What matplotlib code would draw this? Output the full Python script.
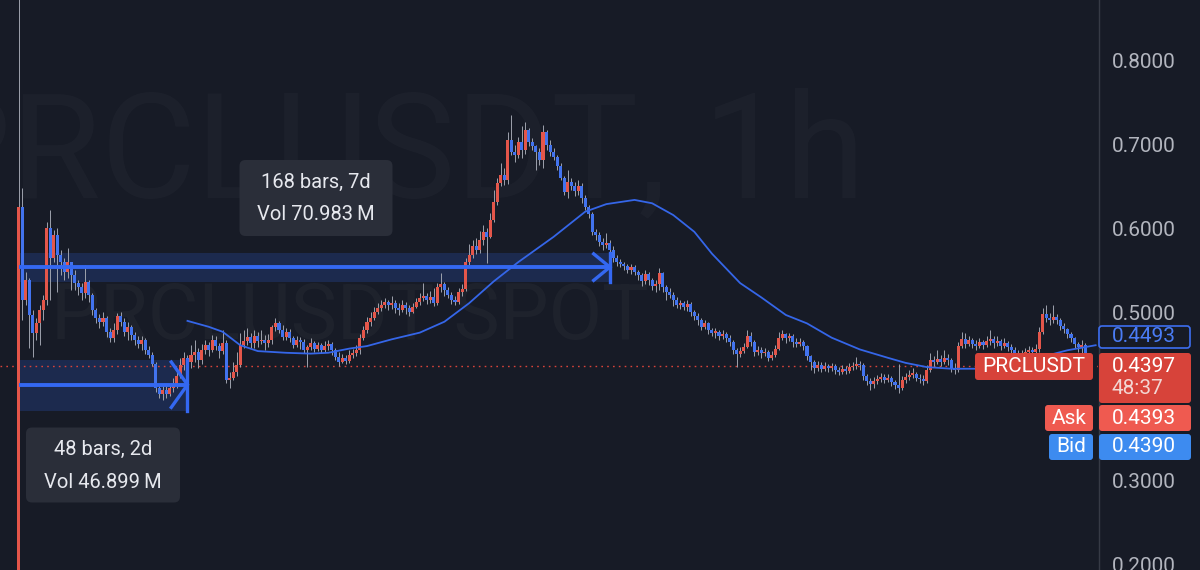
import matplotlib
matplotlib.use("Agg")
import matplotlib.pyplot as plt
import matplotlib.transforms as mtransforms
from matplotlib.patches import Rectangle, FancyBboxPatch

plt.rcParams['font.family'] = ['Roboto', 'DejaVu Sans']

# PRCLUSDT 1h candles (open = previous close)
first_open = 0.05
closes = [
    0.629, 0.518, 0.542, 0.500, 0.479, 0.490, 0.506, 0.518, 0.604, 0.568,
    0.595, 0.571, 0.563, 0.551, 0.563, 0.548, 0.538, 0.533, 0.526, 0.539,
    0.524, 0.506, 0.496, 0.492, 0.496, 0.480, 0.473, 0.482, 0.499, 0.492,
    0.480, 0.486, 0.476, 0.470, 0.465, 0.470, 0.458, 0.452, 0.442, 0.413,
    0.406, 0.411, 0.406, 0.413, 0.418, 0.427, 0.440, 0.449, 0.444, 0.452,
    0.456, 0.446, 0.458, 0.464, 0.458, 0.470, 0.463, 0.457, 0.467, 0.423,
    0.425, 0.432, 0.440, 0.464, 0.469, 0.474, 0.467, 0.475, 0.469, 0.470,
    0.467, 0.470, 0.486, 0.490, 0.482, 0.474, 0.480, 0.473, 0.464, 0.470,
    0.468, 0.458, 0.462, 0.467, 0.460, 0.464, 0.458, 0.463, 0.465, 0.458,
    0.450, 0.444, 0.449, 0.445, 0.452, 0.455, 0.458, 0.473, 0.482, 0.492,
    0.496, 0.504, 0.508, 0.512, 0.515, 0.512, 0.514, 0.508, 0.506, 0.512,
    0.508, 0.504, 0.510, 0.515, 0.520, 0.523, 0.518, 0.521, 0.514, 0.533,
    0.537, 0.530, 0.524, 0.518, 0.515, 0.527, 0.531, 0.563, 0.571, 0.582,
    0.577, 0.589, 0.599, 0.593, 0.613, 0.635, 0.657, 0.667, 0.661, 0.708,
    0.694, 0.690, 0.706, 0.696, 0.720, 0.706, 0.701, 0.694, 0.685, 0.718,
    0.702, 0.694, 0.688, 0.677, 0.663, 0.646, 0.658, 0.654, 0.648, 0.654,
    0.639, 0.629, 0.620, 0.599, 0.595, 0.587, 0.583, 0.586, 0.577, 0.568,
    0.563, 0.561, 0.558, 0.554, 0.557, 0.551, 0.548, 0.540, 0.549, 0.542,
    0.535, 0.537, 0.550, 0.533, 0.527, 0.524, 0.518, 0.512, 0.514, 0.510,
    0.513, 0.504, 0.499, 0.494, 0.486, 0.490, 0.482, 0.479, 0.480, 0.475,
    0.477, 0.473, 0.468, 0.458, 0.454, 0.457, 0.462, 0.475, 0.468, 0.456,
    0.458, 0.455, 0.456, 0.449, 0.452, 0.460, 0.473, 0.477, 0.473, 0.475,
    0.468, 0.465, 0.468, 0.463, 0.451, 0.444, 0.437, 0.440, 0.436, 0.439,
    0.437, 0.439, 0.435, 0.432, 0.436, 0.433, 0.438, 0.439, 0.442, 0.440,
    0.427, 0.421, 0.418, 0.421, 0.424, 0.426, 0.423, 0.425, 0.420, 0.417,
    0.413, 0.423, 0.426, 0.429, 0.430, 0.425, 0.424, 0.421, 0.435, 0.446,
    0.444, 0.448, 0.444, 0.449, 0.446, 0.437, 0.435, 0.463, 0.471, 0.465,
    0.470, 0.465, 0.463, 0.468, 0.464, 0.469, 0.471, 0.467, 0.469, 0.463,
    0.467, 0.462, 0.458, 0.455, 0.450, 0.452, 0.456, 0.458, 0.456, 0.460,
    0.480, 0.501, 0.496, 0.494, 0.498, 0.494, 0.487, 0.483, 0.477, 0.473,
    0.465, 0.462, 0.464, 0.4397,
]
highs = [
    0.950, 0.651, 0.551, 0.544, 0.506, 0.496, 0.512, 0.524, 0.611, 0.625,
    0.601, 0.604, 0.577, 0.568, 0.580, 0.563, 0.554, 0.542, 0.538, 0.560,
    0.542, 0.526, 0.508, 0.501, 0.504, 0.499, 0.485, 0.490, 0.502, 0.504,
    0.496, 0.492, 0.488, 0.480, 0.475, 0.475, 0.473, 0.463, 0.456, 0.444,
    0.418, 0.417, 0.415, 0.418, 0.425, 0.435, 0.449, 0.456, 0.452, 0.464,
    0.470, 0.461, 0.465, 0.470, 0.468, 0.476, 0.475, 0.467, 0.482, 0.470,
    0.432, 0.444, 0.456, 0.479, 0.482, 0.485, 0.479, 0.482, 0.480, 0.482,
    0.476, 0.477, 0.488, 0.496, 0.493, 0.488, 0.485, 0.483, 0.475, 0.475,
    0.474, 0.471, 0.464, 0.473, 0.469, 0.468, 0.467, 0.469, 0.470, 0.468,
    0.461, 0.456, 0.454, 0.452, 0.458, 0.460, 0.464, 0.477, 0.487, 0.498,
    0.504, 0.510, 0.514, 0.518, 0.520, 0.518, 0.523, 0.518, 0.514, 0.518,
    0.515, 0.512, 0.514, 0.520, 0.526, 0.538, 0.526, 0.529, 0.532, 0.538,
    0.550, 0.539, 0.533, 0.527, 0.523, 0.532, 0.537, 0.568, 0.585, 0.589,
    0.592, 0.600, 0.607, 0.604, 0.621, 0.649, 0.663, 0.681, 0.675, 0.718,
    0.738, 0.702, 0.712, 0.725, 0.730, 0.723, 0.711, 0.702, 0.699, 0.726,
    0.720, 0.708, 0.699, 0.690, 0.681, 0.665, 0.673, 0.663, 0.658, 0.661,
    0.657, 0.643, 0.631, 0.623, 0.602, 0.599, 0.592, 0.598, 0.589, 0.582,
    0.571, 0.567, 0.563, 0.561, 0.561, 0.560, 0.554, 0.550, 0.554, 0.551,
    0.544, 0.542, 0.556, 0.551, 0.536, 0.532, 0.527, 0.521, 0.518, 0.517,
    0.518, 0.515, 0.506, 0.502, 0.496, 0.494, 0.492, 0.485, 0.485, 0.482,
    0.482, 0.480, 0.476, 0.470, 0.461, 0.462, 0.467, 0.482, 0.480, 0.470,
    0.463, 0.462, 0.461, 0.458, 0.457, 0.464, 0.480, 0.482, 0.479, 0.479,
    0.477, 0.473, 0.473, 0.470, 0.464, 0.452, 0.446, 0.445, 0.444, 0.444,
    0.442, 0.443, 0.442, 0.438, 0.440, 0.439, 0.443, 0.444, 0.450, 0.445,
    0.443, 0.430, 0.425, 0.426, 0.429, 0.431, 0.430, 0.430, 0.427, 0.423,
    0.442, 0.427, 0.431, 0.435, 0.437, 0.432, 0.430, 0.429, 0.440, 0.455,
    0.451, 0.458, 0.452, 0.458, 0.454, 0.449, 0.443, 0.468, 0.480, 0.479,
    0.475, 0.473, 0.470, 0.473, 0.470, 0.475, 0.482, 0.475, 0.475, 0.471,
    0.473, 0.469, 0.465, 0.462, 0.458, 0.458, 0.461, 0.463, 0.462, 0.465,
    0.486, 0.508, 0.512, 0.502, 0.512, 0.501, 0.496, 0.490, 0.485, 0.480,
    0.474, 0.468, 0.470, 0.467,
]
lows = [
    0.040, 0.494, 0.512, 0.461, 0.450, 0.470, 0.464, 0.494, 0.512, 0.518,
    0.563, 0.527, 0.548, 0.542, 0.544, 0.530, 0.530, 0.524, 0.518, 0.520,
    0.515, 0.500, 0.490, 0.485, 0.487, 0.474, 0.468, 0.468, 0.477, 0.487,
    0.475, 0.470, 0.470, 0.464, 0.461, 0.458, 0.454, 0.449, 0.439, 0.408,
    0.401, 0.399, 0.401, 0.404, 0.408, 0.413, 0.425, 0.435, 0.432, 0.437,
    0.444, 0.437, 0.442, 0.454, 0.451, 0.456, 0.458, 0.449, 0.454, 0.419,
    0.413, 0.423, 0.427, 0.438, 0.461, 0.464, 0.461, 0.461, 0.462, 0.465,
    0.458, 0.462, 0.465, 0.481, 0.479, 0.470, 0.470, 0.468, 0.461, 0.462,
    0.460, 0.455, 0.438, 0.458, 0.456, 0.457, 0.455, 0.456, 0.458, 0.452,
    0.446, 0.439, 0.443, 0.442, 0.443, 0.449, 0.451, 0.454, 0.470, 0.479,
    0.487, 0.494, 0.501, 0.505, 0.508, 0.506, 0.507, 0.502, 0.500, 0.504,
    0.501, 0.499, 0.502, 0.508, 0.512, 0.517, 0.513, 0.514, 0.511, 0.512,
    0.527, 0.523, 0.520, 0.513, 0.512, 0.513, 0.523, 0.529, 0.560, 0.568,
    0.573, 0.574, 0.583, 0.562, 0.592, 0.611, 0.631, 0.654, 0.655, 0.656,
    0.690, 0.682, 0.687, 0.687, 0.692, 0.701, 0.696, 0.673, 0.679, 0.675,
    0.696, 0.689, 0.685, 0.673, 0.661, 0.643, 0.639, 0.649, 0.642, 0.643,
    0.633, 0.625, 0.615, 0.595, 0.589, 0.582, 0.577, 0.580, 0.573, 0.563,
    0.558, 0.557, 0.554, 0.550, 0.549, 0.548, 0.542, 0.535, 0.537, 0.536,
    0.530, 0.527, 0.530, 0.527, 0.518, 0.520, 0.511, 0.508, 0.507, 0.506,
    0.505, 0.499, 0.494, 0.488, 0.482, 0.483, 0.477, 0.475, 0.473, 0.470,
    0.471, 0.468, 0.463, 0.454, 0.438, 0.450, 0.455, 0.461, 0.463, 0.451,
    0.452, 0.449, 0.451, 0.445, 0.446, 0.450, 0.458, 0.470, 0.467, 0.469,
    0.462, 0.462, 0.463, 0.458, 0.446, 0.435, 0.431, 0.433, 0.432, 0.433,
    0.432, 0.433, 0.430, 0.429, 0.430, 0.430, 0.431, 0.435, 0.436, 0.435,
    0.423, 0.417, 0.411, 0.413, 0.418, 0.420, 0.419, 0.420, 0.415, 0.412,
    0.407, 0.411, 0.419, 0.423, 0.425, 0.421, 0.419, 0.417, 0.419, 0.432,
    0.439, 0.442, 0.439, 0.442, 0.440, 0.432, 0.430, 0.432, 0.461, 0.461,
    0.463, 0.461, 0.458, 0.461, 0.460, 0.462, 0.464, 0.461, 0.463, 0.458,
    0.461, 0.457, 0.452, 0.450, 0.445, 0.446, 0.449, 0.451, 0.450, 0.452,
    0.456, 0.477, 0.492, 0.488, 0.490, 0.489, 0.482, 0.479, 0.473, 0.468,
    0.461, 0.456, 0.455, 0.435,
]

# moving average, sampled along the drawn curve
ma_bars = [48, 54, 58, 63, 68, 76, 83, 88, 94, 99, 106, 114, 121, 128, 135,
           142, 152, 161, 167, 175, 180, 186, 192, 197, 205, 211, 218, 224,
           231, 239, 247, 252, 258, 265, 276, 287, 298, 306]
ma_vals = [0.493, 0.486, 0.480, 0.464, 0.457, 0.455, 0.454, 0.455, 0.460,
           0.463, 0.471, 0.479, 0.492, 0.514, 0.540, 0.563, 0.593, 0.623,
           0.632, 0.637, 0.633, 0.619, 0.599, 0.573, 0.538, 0.521, 0.500,
           0.490, 0.473, 0.459, 0.449, 0.443, 0.438, 0.436, 0.436, 0.446,
           0.458, 0.464]

price_ticks = [0.8, 0.7, 0.6, 0.5, 0.3, 0.2]
last_price = 0.4397
ma_last = 0.4493
ask_price = 0.4393
bid_price = 0.4390
countdown = "48:37"

# measure tool: start bar, end bar, low, high, arrow level
measure1 = (0, 168, 0.539, 0.574, 0.557)
measure1_text = ["168 bars, 7d", "Vol 70.983\u2009M"]
measure2 = (0, 48, 0.386, 0.446, 0.417)
measure2_text = ["48 bars, 2d", "Vol 46.899\u2009M"]

bg = "#171b26"
up_col = "#e4564a"
down_col = "#4273ee"
wick_col = "#9ea2ad"
tool_col = "#3468f2"
label_red = "#d7433a"

fig = plt.figure(figsize=(12, 5.7), dpi=100, facecolor=bg)
ax = fig.add_axes([0, 0, 1, 1])
ax.set_facecolor(bg)
ax.set_xlim(-5.26, 335.65)   # 3.52 px per bar
ax.set_ylim(0.1964, 0.875)
ax.axis("off")

# pixel coords, origin top-left
pix = mtransforms.Affine2D().scale(1, -1).translate(0, 570)
ypix = mtransforms.blended_transform_factory(mtransforms.IdentityTransform(), ax.transData)

# watermark
ax.text(392, 157, "PRCLUSDT, 1h", transform=pix, ha="center", va="center",
        fontsize=105, color="white", alpha=0.025, zorder=0)
ax.text(350, 318, "PRCLUSDT SPOT", transform=pix, ha="center", va="center",
        fontsize=56, color="white", alpha=0.03, zorder=0)

# measure tool bands
for b0, b1, lo, hi, mid in [measure1, measure2]:
    ax.add_patch(Rectangle((b0, lo), b1 - b0, hi - lo, color=tool_col, alpha=0.2,
                           lw=0, zorder=1))
    ax.plot([b0, b1], [mid, mid], color=tool_col, lw=2.8, zorder=6, solid_capstyle="butt")
    ax.plot([b1, b1], [lo, hi], color=tool_col, lw=2.4, zorder=6)
    dy = (hi - lo) * 0.45
    ax.plot([b1 - 4.6, b1, b1 - 4.6], [mid + dy, mid, mid - dy], color=tool_col,
            lw=2.4, zorder=6, solid_joinstyle="miter")

# current price line
ax.axhline(last_price, color=label_red, lw=1.0, ls=(0, (1.2, 3)), zorder=1)

# candles
opens = [first_open] + closes[:-1]
xs = list(range(len(closes)))
colors = [up_col if c >= o else down_col for o, c in zip(opens, closes)]
bottoms = [min(o, c) for o, c in zip(opens, closes)]
heights = [max(abs(c - o), 0.0015) for o, c in zip(opens, closes)]
ax.vlines(xs, lows, highs, color=wick_col, lw=0.7, zorder=2)
ax.bar(xs, heights, bottom=bottoms, width=0.86, color=colors, lw=0, zorder=3)

# moving average
ax.plot(ma_bars, ma_vals, color="#3566e8", lw=1.3, zorder=4)

# measure labels
for (cx, cy, w, h), lines in [((316, 198, 153, 76), measure1_text),
                               ((103, 465, 154, 75), measure2_text)]:
    ax.add_patch(FancyBboxPatch((cx - w / 2, cy - h / 2), w, h, transform=pix,
                                boxstyle="round,pad=0,rounding_size=6",
                                fc="#2a2e39", ec="none", zorder=7))
    ax.text(cx, cy - 16, lines[0], transform=pix, ha="center", va="center",
            fontsize=14.5, color="#e6e8ee", zorder=8)
    ax.text(cx, cy + 17, lines[1], transform=pix, ha="center", va="center",
            fontsize=14.5, color="#e6e8ee", zorder=8)

# price scale
ax.add_patch(Rectangle((1098, 0), 102, 570, transform=pix, fc=bg, ec="none", zorder=9))
ax.plot([1098.5, 1098.5], [0, 570], transform=pix, color="#363a45", lw=1, zorder=10)
for v in price_ticks:
    ax.text(1112, v, f"{v:.4f}", transform=ypix, ha="left", va="center",
            fontsize=15, color="#b2b5be", zorder=10)


def tag(x0, y0, x1, y1, fc, ec="none"):
    ax.add_patch(FancyBboxPatch((x0, y0), x1 - x0, y1 - y0, transform=pix,
                                boxstyle="round,pad=0,rounding_size=3",
                                fc=fc, ec=ec, lw=1.2, zorder=11))


tag(1099, 326, 1190, 348, bg, ec="#3d6ef0")
ax.text(1112, 337, f"{ma_last:.4f}", transform=pix, va="center", fontsize=15,
        color="#4a7cf5", zorder=12)

tag(1099, 353, 1191, 403, label_red)
ax.text(1112, 366, f"{last_price:.4f}", transform=pix, va="center", fontsize=15,
        color="white", zorder=12)
ax.text(1112, 389, countdown, transform=pix, va="center", fontsize=15,
        color="#f3d6d3", zorder=12)

tag(975, 353, 1093, 380, label_red)
ax.text(1034, 366.5, "PRCLUSDT", transform=pix, ha="center", va="center",
        fontsize=15, color="white", zorder=12)

tag(1045, 405, 1093, 431, "#ef5a50")
ax.text(1069, 418, "Ask", transform=pix, ha="center", va="center", fontsize=15,
        color="white", zorder=12)
tag(1099, 405, 1191, 431, "#ef5a50")
ax.text(1112, 418, f"{ask_price:.4f}", transform=pix, va="center", fontsize=15,
        color="white", zorder=12)

tag(1049, 434, 1093, 460, "#3d8bf0")
ax.text(1071, 447, "Bid", transform=pix, ha="center", va="center", fontsize=15,
        color="white", zorder=12)
tag(1099, 434, 1191, 460, "#3d8bf0")
ax.text(1112, 447, f"{bid_price:.4f}", transform=pix, va="center", fontsize=15,
        color="white", zorder=12)

fig.savefig("out.png", dpi=100, facecolor=bg)
